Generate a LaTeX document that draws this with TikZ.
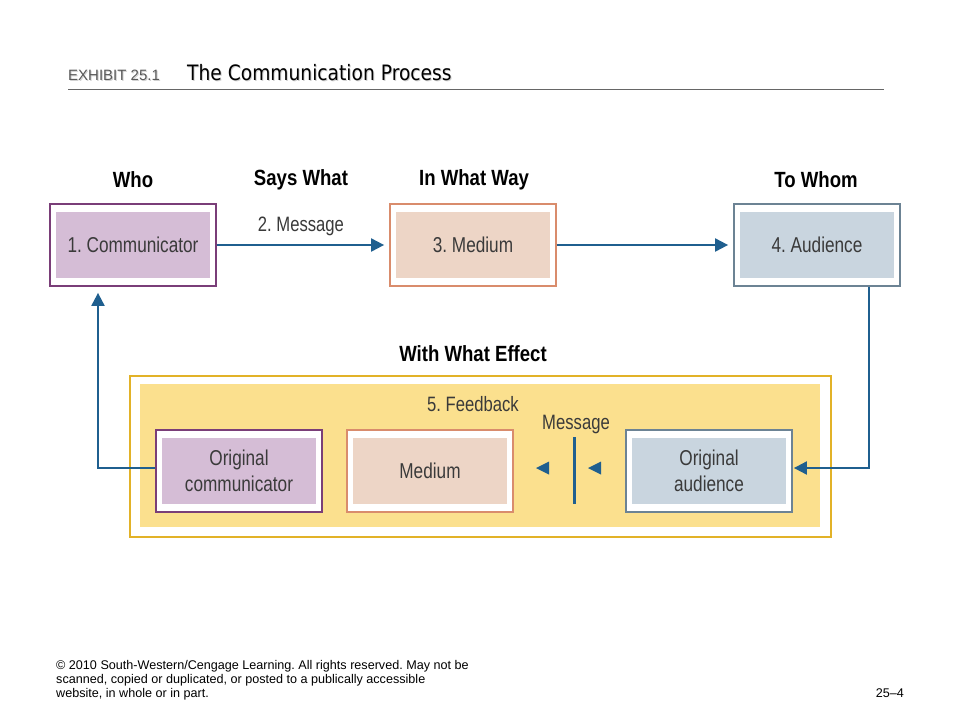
\documentclass[tikz,border=0pt]{standalone}
\usepackage{fontspec}
\setmainfont{Liberation Sans}
\newfontfamily\narrowfont{Liberation Sans}[FakeStretch=0.80]
\newfontfamily\headfont{Liberation Sans}[FakeStretch=0.845]
\newfontfamily\titlefont{DejaVu Sans}[FakeStretch=0.88]
\usetikzlibrary{arrows.meta,calc}
\definecolor{arrblue}{HTML}{1F5F8F}
\definecolor{purpline}{HTML}{7A3E78}
\definecolor{purpfill}{HTML}{D5BDD6}
\definecolor{salmline}{HTML}{D98C6C}
\definecolor{salmfill}{HTML}{EDD5C6}
\definecolor{grayline}{HTML}{6C8394}
\definecolor{grayfill}{HTML}{C9D5DF}
\definecolor{goldline}{HTML}{E2B228}
\definecolor{yellfill}{HTML}{FBE08E}
\definecolor{txtgray}{HTML}{3A3A3A}
\tikzset{
  outerbox/.style={draw=#1, line width=1.8pt, fill=white, minimum width=166pt, minimum height=82pt, inner sep=0pt},
  innerbox/.style={fill=#1, minimum width=154pt, minimum height=66pt, inner sep=0pt, align=center,
    font=\narrowfont\fontsize{21.5}{26}\selectfont, text=txtgray},
  heading/.style={font=\headfont\bfseries\fontsize{22}{24}\selectfont, text=black},
  lbl/.style={font=\narrowfont\fontsize{20.8}{22}\selectfont, text=txtgray},
  arr/.style={draw=arrblue, line width=2pt, -{Triangle[length=13pt,width=13pt]}},
  foot/.style={font=\fontsize{12.6}{14}\selectfont, anchor=base west, inner sep=0pt},
  ttlstyle/.style={anchor=base west, inner sep=0pt},
}
\begin{document}
\frenchspacing
\begin{tikzpicture}[x=1pt,y=-1pt]
\useasboundingbox (0,0) rectangle (960,720);
\fill[white] (0,0) rectangle (960,720);
% title (with light shadow)
\node[ttlstyle, text=black!18, font=\fontsize{15}{17}\selectfont] (exhs) at (69,81) {EXHIBIT 25.1};
\node[ttlstyle, text=black!65, font=\fontsize{15}{17}\selectfont] (exh) at (68,80) {EXHIBIT 25.1};
\node[ttlstyle, text=black!18, font=\titlefont\fontsize{21.2}{24}\selectfont] (ttls) at (188,81) {The Communication Process};
\node[ttlstyle, font=\titlefont\fontsize{21.2}{24}\selectfont] (ttl) at (187,80) {The Communication Process};
\draw[black!60, line width=1pt] (68,89) -- (884,89);
% headings
\node[heading] (hwho) at (133,180) {Who};
\node[heading] (hsays) at (301,180) {Says What};
\node[heading] (hway) at (474,180) {In What Way};
\node[heading] (hwhom) at (816,180) {To Whom};
% top boxes
\node[outerbox=purpline] (comm) at (133,245) {};
\node[innerbox=purpfill] (commin) at (133,245) {1. Communicator};
\node[outerbox=salmline] (med) at (473,245) {};
\node[innerbox=salmfill] (medin) at (473,245) {3. Medium};
\node[outerbox=grayline] (aud) at (817,245) {};
\node[innerbox=grayfill] (audin) at (817,245) {4. Audience};
\node[lbl] (msg) at (301,226) {2. Message};
\draw[arr, shorten >=5pt] (comm.east) -- (med.west);
\draw[arr, shorten >=5pt] (med.east) -- (aud.west);
% feedback frame
\node[heading] (heff) at (473,354) {With What Effect};
\node[draw=goldline, line width=2pt, fill=white, minimum width=701pt, minimum height=161pt, inner sep=0pt] (frame) at (480,456) {};
\node[fill=yellfill, minimum width=680pt, minimum height=143pt, inner sep=0pt] (framein) at (480,455.5) {};
\node[lbl] (fb) at (473,404) {5. Feedback};
\node[outerbox=purpline] (ocomm) at (239,471) {};
\node[innerbox=purpfill] (ocommin) at (239,471) {Original\\communicator};
\node[outerbox=salmline] (omed) at (430,471) {};
\node[innerbox=salmfill] (omedin) at (430,471) {Medium};
\node[outerbox=grayline] (oaud) at (709,471) {};
\node[innerbox=grayfill] (oaudin) at (709,471) {Original\\audience};
\node[lbl] (fmsg) at (576,424) {Message};
\draw[arrblue, line width=3pt] (574,437) -- (574,504);
\fill[arrblue] (536,468) -- (549,461.5) -- (549,474.5) -- cycle;
\fill[arrblue] (588,468) -- (601,461.5) -- (601,474.5) -- cycle;
% loop connectors
\draw[arr, shorten >=1pt] ([xshift=52pt]aud.south) |- ($(oaud.east)+(0,-3)$);
\draw[arr, shorten >=6pt] ($(ocomm.west)+(0,-3)$) -| ([xshift=-35pt]comm.south);
% footer
\node[foot] (f1) at (56,669) {\textcopyright{} 2010 South-Western/Cengage Learning. All rights reserved. May not be};
\node[foot] (f2) at (56,683) {scanned, copied or duplicated, or posted to a publically accessible};
\node[foot] (f3) at (56,697) {website, in whole or in part.};
\node[foot, anchor=base east] (pg) at (904,697) {25--4};
\end{tikzpicture}
\end{document}
